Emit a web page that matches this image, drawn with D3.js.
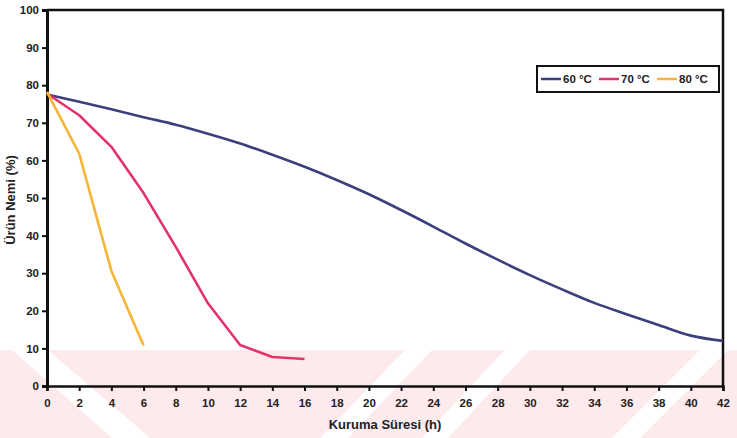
<!DOCTYPE html>
<html>
<head>
<meta charset="utf-8">
<script src="https://cdn.jsdelivr.net/npm/d3@7"></script>
<style>
  body { margin: 0; background: #fff; }
  text { font-family: Arial, "Liberation Sans", sans-serif; font-weight: bold; fill: #222; }
</style>
</head>
<body>
<div id="chart"></div>
<script>
// data
var hours60 = [0, 2, 4, 6, 8, 10, 12, 14, 16, 18, 20, 22, 24, 26, 28, 30, 32, 34, 36, 38, 40, 42];
var moist60 = [77.5, 75.6, 73.6, 71.5, 69.5, 67.1, 64.5, 61.5, 58.3, 54.8, 51.0, 46.8, 42.4, 37.9, 33.6, 29.5, 25.7, 22.1, 19.1, 16.2, 13.4, 12.0];
var hours70 = [0, 2, 4, 6, 8, 10, 12, 14, 16];
var moist70 = [77.8, 72.0, 63.6, 51.3, 37.0, 22.0, 10.9, 7.7, 7.2];
var hours80 = [0, 2, 4, 6];
var moist80 = [78.2, 61.8, 30.6, 10.8];
var seriesNames = ["60 °C", "70 °C", "80 °C"];
var seriesColors = ["#3b3f7c", "#e2336c", "#f5b638"];
var xTicks = d3.range(0, 43, 2);
var yTicks = d3.range(0, 101, 10);

var w = 737;
var h = 438;
var margin = {top: 10, right: 14, bottom: 52, left: 47};

var svg = d3.select("#chart")
  .append("svg")
  .attr("width", w)
  .attr("height", h);

// faint watermark band from the scan
svg.append("rect")
  .attr("x", 0).attr("y", 350)
  .attr("width", w).attr("height", h - 350)
  .attr("fill", "#fdeaed");
var gaps = [[[12, 350], [48, 350], [150, 438], [112, 438]],
            [[405, 350], [432, 350], [348, 438], [320, 438]],
            [[505, 350], [530, 350], [448, 438], [422, 438]],
            [[700, 350], [728, 350], [640, 438], [612, 438]]];
svg.selectAll("polygon.gap")
  .data(gaps)
  .enter()
  .append("polygon")
  .attr("class", "gap")
  .attr("fill", "#fff")
  .attr("points", function (d) { return d.join(" "); });

var x = d3.scaleLinear().domain([0, 42]).range([margin.left, w - margin.right]);
var y = d3.scaleLinear().domain([0, 100]).range([h - margin.bottom, margin.top]);

//Axes
svg.append("g")
  .attr("transform", "translate(0," + y(0) + ")")
  .call(d3.axisBottom(x).tickValues(xTicks).tickSize(5).tickPadding(8))
  .call(function (g) {
    g.select(".domain").attr("stroke", "#111").attr("stroke-width", 2.5);
    g.selectAll(".tick line").attr("stroke", "#111").attr("stroke-width", 2);
    g.selectAll("text").style("font-size", "11.5px").attr("fill", "#222");
  });

svg.append("g")
  .attr("transform", "translate(" + x(0) + ",0)")
  .call(d3.axisLeft(y).tickValues(yTicks).tickSize(5).tickPadding(3))
  .call(function (g) {
    g.select(".domain").attr("stroke", "#111").attr("stroke-width", 3);
    g.selectAll(".tick line").attr("stroke", "#111").attr("stroke-width", 2);
    g.selectAll("text").style("font-size", "11.5px").attr("fill", "#222");
  });

// top and right border
svg.append("path")
  .attr("d", "M" + x(0) + "," + y(100) + "H" + x(42) + "V" + y(0))
  .attr("fill", "none")
  .attr("stroke", "#111")
  .attr("stroke-width", 2.5);

//Lines
var smooth = d3.line()
  .x(function (d) { return x(d[0]); })
  .y(function (d) { return y(d[1]); })
  .curve(d3.curveMonotoneX);
var straight = d3.line()
  .x(function (d) { return x(d[0]); })
  .y(function (d) { return y(d[1]); });

var allSeries = [d3.zip(hours60, moist60), d3.zip(hours70, moist70), d3.zip(hours80, moist80)];
svg.selectAll("path.series")
  .data(allSeries)
  .enter()
  .append("path")
  .attr("class", "series")
  .attr("fill", "none")
  .attr("stroke", function (d, i) { return seriesColors[i]; })
  .attr("stroke-width", 2.6)
  .attr("stroke-linejoin", "round")
  .attr("d", function (d, i) { return i == 0 ? smooth(d) : straight(d); });

//Legend
var lg = svg.append("g");
lg.append("rect")
  .attr("x", 537).attr("y", 66)
  .attr("width", 182).attr("height", 26)
  .attr("fill", "#fff")
  .attr("stroke", "#111")
  .attr("stroke-width", 2);
var item = lg.selectAll("g.item")
  .data(seriesNames)
  .enter()
  .append("g")
  .attr("class", "item")
  .attr("transform", function (d, i) { return "translate(" + (541 + i * 58) + ",79)"; });
item.append("line")
  .attr("x1", 0).attr("x2", 20)
  .attr("stroke", function (d, i) { return seriesColors[i]; })
  .attr("stroke-width", 2.5);
item.append("text")
  .attr("x", 22).attr("dy", "0.35em")
  .style("font-size", "11.5px")
  .text(function (d) { return d; });

//Titles
svg.append("text")
  .attr("x", 385).attr("y", 429)
  .attr("text-anchor", "middle")
  .style("font-size", "13px")
  .text("Kuruma Süresi (h)");
svg.append("text")
  .attr("transform", "translate(15," + 200 + ") rotate(-90)")
  .attr("text-anchor", "middle")
  .style("font-size", "13px")
  .text("Ürün Nemi (%)");
</script>
</body>
</html>
